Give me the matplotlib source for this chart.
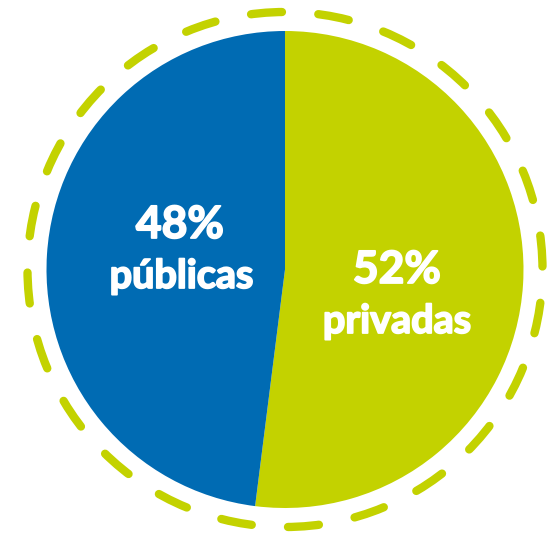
import matplotlib
matplotlib.use("Agg")
import matplotlib.pyplot as plt
import matplotlib.patheffects as pe
from matplotlib.patches import Circle

categories = ["privadas", "públicas"]
values = [52, 48]
colors = ["#C3D200", "#006BB3"]

W, H = 550, 535
fig = plt.figure(figsize=(W / 100, H / 100), dpi=100)
ax = fig.add_axes([0, 0, 1, 1])

cx, cy = 285, H - 269.5
ax.pie(values, colors=colors, startangle=90, counterclock=False,
       center=(cx, cy), radius=238.5, frame=True,
       wedgeprops=dict(linewidth=0))
ax.set_xlim(0, W)
ax.set_ylim(0, H)
ax.set_aspect("equal")
ax.axis("off")

ring = Circle((cx, cy), 257.5, fill=False, edgecolor="#C3D200", linewidth=6,
              linestyle=(7.73, (3.72, 4.37)), capstyle="round")
ax.add_patch(ring)

effects = [pe.withStroke(linewidth=1.3, foreground="white")]
font = dict(color="white", fontweight="bold", family="Lato", ha="center",
            va="baseline", path_effects=effects)
ax.text(180, H - 238, f"{values[1]}%", fontsize=32, **font)
ax.text(181.5, H - 288, categories[1], fontsize=28.5, **font)
ax.text(397, H - 283, f"{values[0]}%", fontsize=32, **font)
ax.text(397, H - 333, categories[0], fontsize=28.5, **font)

fig.savefig("out.png", dpi=100)
